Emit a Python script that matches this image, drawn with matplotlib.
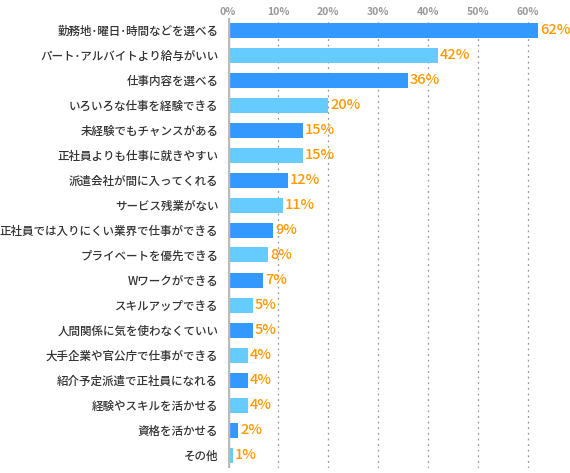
import matplotlib
matplotlib.use('Agg')
import matplotlib.pyplot as plt

plt.rcParams['font.family'] = ['Noto Sans CJK JP', 'DejaVu Sans']

categories = ['勤務地･曜日･時間などを選べる', 'パート･アルバイトより給与がいい', '仕事内容を選べる',
              'いろいろな仕事を経験できる', '未経験でもチャンスがある', '正社員よりも仕事に就きやすい',
              '派遣会社が間に入ってくれる', 'サービス残業がない', '正社員では入りにくい業界で仕事ができる',
              'プライベートを優先できる', 'Wワークができる', 'スキルアップできる',
              '人間関係に気を使わなくていい', '大手企業や官公庁で仕事ができる', '紹介予定派遣で正社員になれる',
              '経験やスキルを活かせる', '資格を活かせる', 'その他']
values = [62, 42, 36, 20, 15, 15, 12, 11, 9, 8, 7, 5, 5, 4, 4, 4, 2, 1]
ticks = [0, 10, 20, 30, 40, 50, 60]

dark = '#3399ff'
light = '#66ccff'
colors = [dark if i % 2 == 0 else light for i in range(len(values))]

fig = plt.figure(figsize=(5.7, 4.73), dpi=100)
ax = fig.add_axes([228/570, 5/473, 342/570, 450/473])
ypos = list(range(len(values)))
ax.barh(ypos, values, height=0.6, color=colors, zorder=3)
for y, v in zip(ypos, values):
    ax.text(v + 0.4, y, f'{v}%', va='center', ha='left', color='#ff9900',
            fontsize=10.5, fontweight='medium', zorder=4)
ax.set_xlim(0, 68.4)
ax.set_ylim(17.52, -0.48)
for t in ticks[1:]:
    ax.axvline(t, color='#999999', linestyle=(0, (1.5, 3)), linewidth=0.9, zorder=1)
ax.axvline(0, color='#bbbbbb', linewidth=2.5, zorder=5)
ax.set_yticks(ypos)
ax.set_yticklabels(categories, fontsize=8.3, color='#333333', fontweight='medium')
ax.set_xticks(ticks)
ax.set_xticklabels([f'{t}%' for t in ticks], fontsize=7.5, color='#999999', fontweight='bold')
ax.xaxis.tick_top()
ax.tick_params(axis='both', length=0)
ax.tick_params(axis='x', pad=1)
ax.tick_params(axis='y', pad=7)
for s in ax.spines.values():
    s.set_visible(False)
fig.savefig('out.png', dpi=100)
